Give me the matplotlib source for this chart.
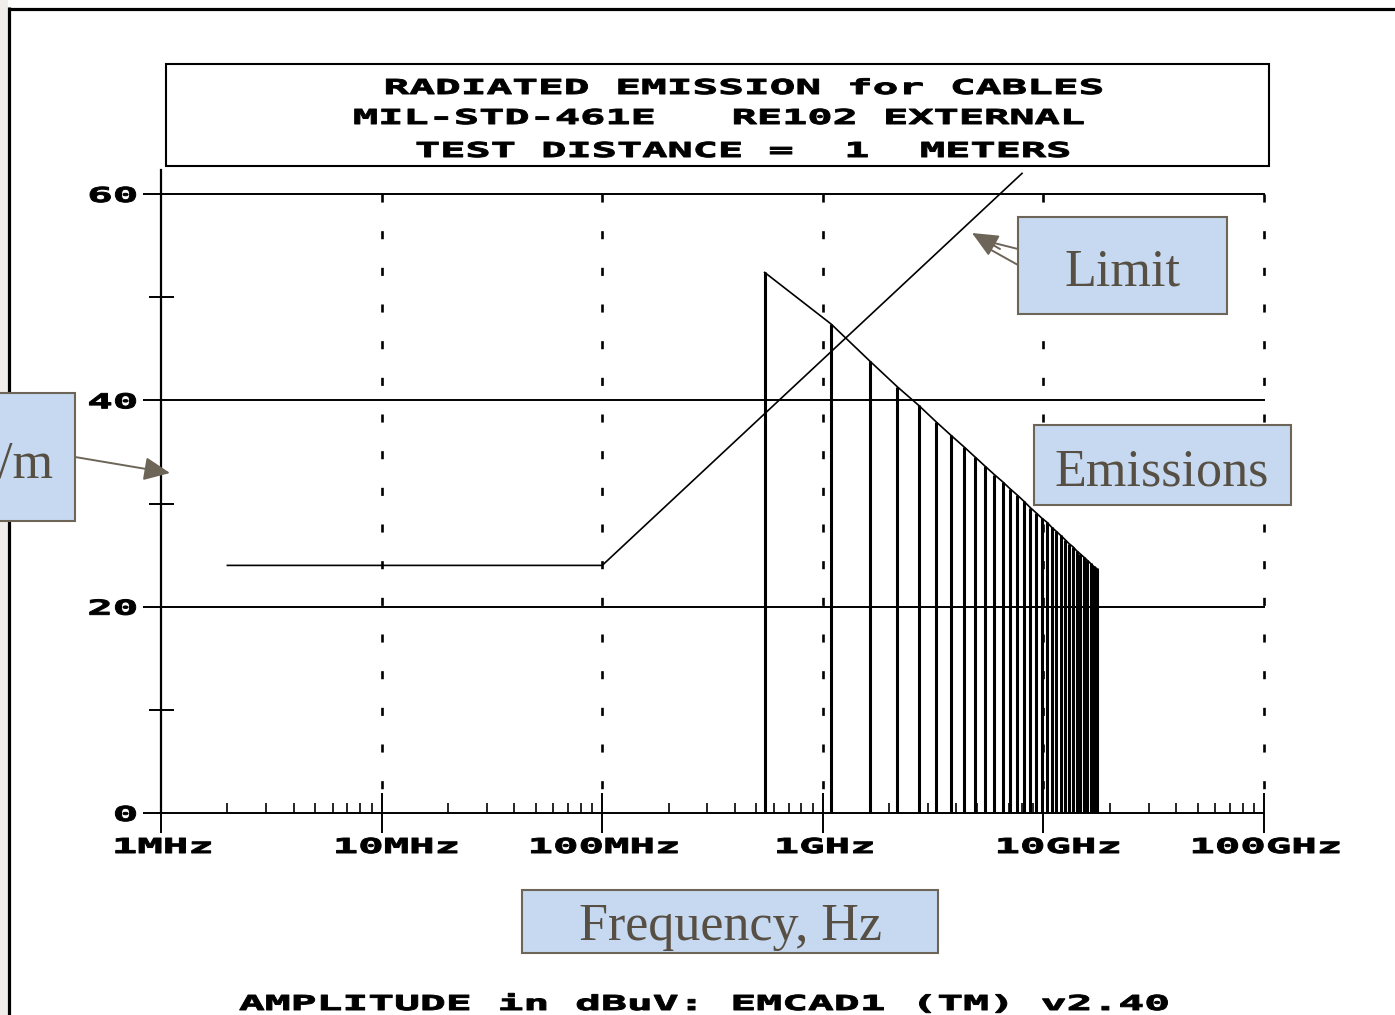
import numpy as np
import matplotlib
matplotlib.use('Agg')
import matplotlib.pyplot as plt
from matplotlib.patches import Rectangle, FancyArrowPatch
from matplotlib.lines import Line2D
from matplotlib.patheffects import AbstractPathEffect
from matplotlib.transforms import Affine2D
from matplotlib.ticker import LogLocator, NullFormatter

plt.rcParams['lines.scale_dashes'] = False

W, H = 1395, 1015

# limit line (Hz, dBuV/m)
limit_freq = [2e6, 1e8, 8e9]
limit_level = [24, 24, 62]

# emission harmonics (MHz, dBuV/m)
emis_freq_mhz = [545, 1090, 1635, 2180, 2725, 3270, 3815, 4360, 4905, 5450,
                 5995, 6540, 7085, 7630, 8175, 8720, 9265, 9810, 10355, 10900,
                 11445, 11990, 12535, 13080, 13625, 14170, 14715, 15260, 15805,
                 16350, 16895, 17440]
emis_level = [52.4, 47.4, 43.8, 41.3, 39.5, 37.9, 36.6, 35.5, 34.5, 33.6,
              32.8, 32.1, 31.4, 30.8, 30.2, 29.6, 29.1, 28.6, 28.2, 27.7,
              27.3, 26.9, 26.5, 26.1, 25.8, 25.4, 25.1, 24.8, 24.5, 24.2,
              23.9, 23.7]

freq_ticks = [1e6, 1e7, 1e8, 1e9, 1e10, 1e11]
freq_labels = ['1MHz', '10MHz', '100MHz', '1GHz', '10GHz', '100GHz']
amp_ticks = [0, 20, 40, 60]
amp_minor = [10, 30, 50]

title_lines = ['RADIATED EMISSION for CABLES',
               'MIL-STD-461E   RE102 EXTERNAL',
               'TEST DISTANCE =  1  METERS']
footer = 'AMPLITUDE in dBuV: EMCAD1 (TM) v2.40'


class Stretch(AbstractPathEffect):
    """widen (and thicken) the glyphs, like the old plotter font"""
    def __init__(self, sx=2.06, anchor='center', lw=0.7):
        super().__init__()
        self.sx = sx
        self.anchor = anchor
        self.lw = lw

    def draw_path(self, renderer, gc, tpath, affine, rgbFace=None):
        ext = tpath.get_extents()
        if self.anchor == 'left':
            x0 = ext.x0
        elif self.anchor == 'right':
            x0 = ext.x1
        else:
            x0 = (ext.x0 + ext.x1) / 2
        t = Affine2D().translate(-x0, 0).scale(self.sx, 1).translate(x0, 0)
        gc0 = renderer.new_gc()
        gc0.copy_properties(gc)
        gc0.set_linewidth(self.lw)
        gc0.set_foreground(rgbFace)
        renderer.draw_path(gc0, tpath, t + affine, rgbFace)
        gc0.restore()


def pix(x, y):
    return (x / W, 1 - y / H)


mono = dict(family='DejaVu Sans Mono', weight='bold', size=14.8)

fig = plt.figure(figsize=(W / 100, H / 100), dpi=100)
fig.patch.set_facecolor('white')

ax = fig.add_axes([161 / W, 1 - 813 / H, (1264 - 161) / W, (813 - 194) / H])
ax.set_xscale('log')
ax.set_xlim(1e6, 1e11)
ax.set_ylim(0, 60)
for s in ax.spines.values():
    s.set_visible(False)
ax.patch.set_alpha(0)

# ticks
ax.set_yticks(amp_ticks)
ax.set_yticks(amp_minor, minor=True)
ax.set_yticklabels([str(v) for v in amp_ticks], **mono)
for lab in ax.get_yticklabels():
    lab.set_path_effects([Stretch(anchor='right')])
ax.tick_params(axis='y', which='major', direction='out', length=13, width=1.4, pad=4.3)
ax.tick_params(axis='y', which='minor', direction='inout', length=18, width=1.4)
ax.set_xticks(freq_ticks)
ax.xaxis.set_minor_locator(LogLocator(base=10, subs=np.arange(2, 10), numticks=20))
ax.xaxis.set_minor_formatter(NullFormatter())
ax.tick_params(axis='x', which='major', direction='inout', length=28.8, width=1.4,
               labelbottom=False)
ax.tick_params(axis='x', which='minor', direction='in', length=7.2, width=1.2)

# grid
for v in [0] + amp_ticks[1:]:
    ax.axhline(v, color='k', lw=1.4, clip_on=False)
for f in freq_ticks[1:]:
    ax.plot([f, f], [60, 0], color='k', lw=1.9, linestyle=(0, (5.8, 20.6)),
            clip_on=False)
ax.plot([1e6, 1e6], [62.3, 0], color='k', lw=1.6, clip_on=False)

# limit and emissions
ax.plot(limit_freq, limit_level, color='k', lw=1.2, clip_on=False)
ef = np.array(emis_freq_mhz) * 1e6
ax.vlines(ef, 0, emis_level, color='k', lw=2.2)
ax.plot(ef, emis_level, color='k', lw=1.2)

# frequency labels
for f, lab in zip(freq_ticks, freq_labels):
    dx = 2 if len(lab) % 2 == 0 else 15
    ax.annotate(lab, xy=(f, 0), xytext=(dx, -40), textcoords='offset pixels',
                ha='center', va='baseline', annotation_clip=False,
                path_effects=[Stretch()], **mono)

# title box
fig.add_artist(Rectangle(pix(166, 166), (1269 - 166) / W, (166 - 64) / H,
                         transform=fig.transFigure, fill=False, ec='k', lw=1.5))
for (cx, by), line in zip([(744, 94), (719, 124), (743, 157)], title_lines):
    fig.text(*pix(cx, by), line, ha='center', va='baseline',
             path_effects=[Stretch(sx=2.08 if cx == 744 else 2.04)], **mono)
fig.text(*pix(704, 1010), footer, ha='center', va='baseline',
         path_effects=[Stretch(sx=2.09)], **mono)

# page frame
fig.add_artist(Rectangle((0, 0), 7.5 / W, 1, transform=fig.transFigure,
                         fc='#efeeea', ec='none', zorder=0))
fig.add_artist(Line2D([8 / W, 1], [1 - 8.5 / H, 1 - 8.5 / H], color='k', lw=2.3,
                      transform=fig.transFigure, solid_capstyle='butt'))
fig.add_artist(Line2D([9 / W, 9 / W], [1 - 7 / H, 0], color='k', lw=2.3,
                      transform=fig.transFigure, solid_capstyle='butt'))

# callout boxes
box_fc = '#c6d9f0'
box_ec = '#6d6658'
txt_c = '#574f44'
serif = dict(family='Liberation Serif', size=37.5, color=txt_c, zorder=7)


def callout(x0, y0, x1, y1):
    fig.add_artist(Rectangle(pix(x0, y1), (x1 - x0) / W, (y1 - y0) / H,
                             transform=fig.transFigure, fc=box_fc, ec=box_ec,
                             lw=1.5, zorder=6))


def arrow(a, b, head=True):
    style = '-|>,head_length=0.8,head_width=0.36' if head else '-'
    fig.add_artist(FancyArrowPatch(pix(*a), pix(*b), transform=fig.transFigure,
                                   arrowstyle=style, mutation_scale=20,
                                   color=box_ec, lw=1.4, shrinkA=0, shrinkB=0,
                                   zorder=6))


callout(1018, 217, 1227, 314)
fig.text(*pix(1122, 285), 'Limit', ha='center', va='baseline', **serif)
arrow((1018, 249), (986, 241), head=False)
arrow((1018, 265), (984, 246), head=False)
arrow((1000, 249), (972, 233))

callout(1034, 425, 1291, 505)
fig.text(*pix(1162, 485), 'Emissions', ha='center', va='baseline', **serif)

callout(522, 890, 938, 953)
fig.text(*pix(730, 940), 'Frequency, Hz', ha='center', va='baseline', **serif)

# the unit label is cut by the page edge in the source; only "/m" shows
callout(-80, 393, 75, 521)
fig.text(*pix(53, 478), '/m', ha='right', va='baseline', **serif)
arrow((75, 457), (170, 473))

fig.savefig('out.png', dpi=100)
